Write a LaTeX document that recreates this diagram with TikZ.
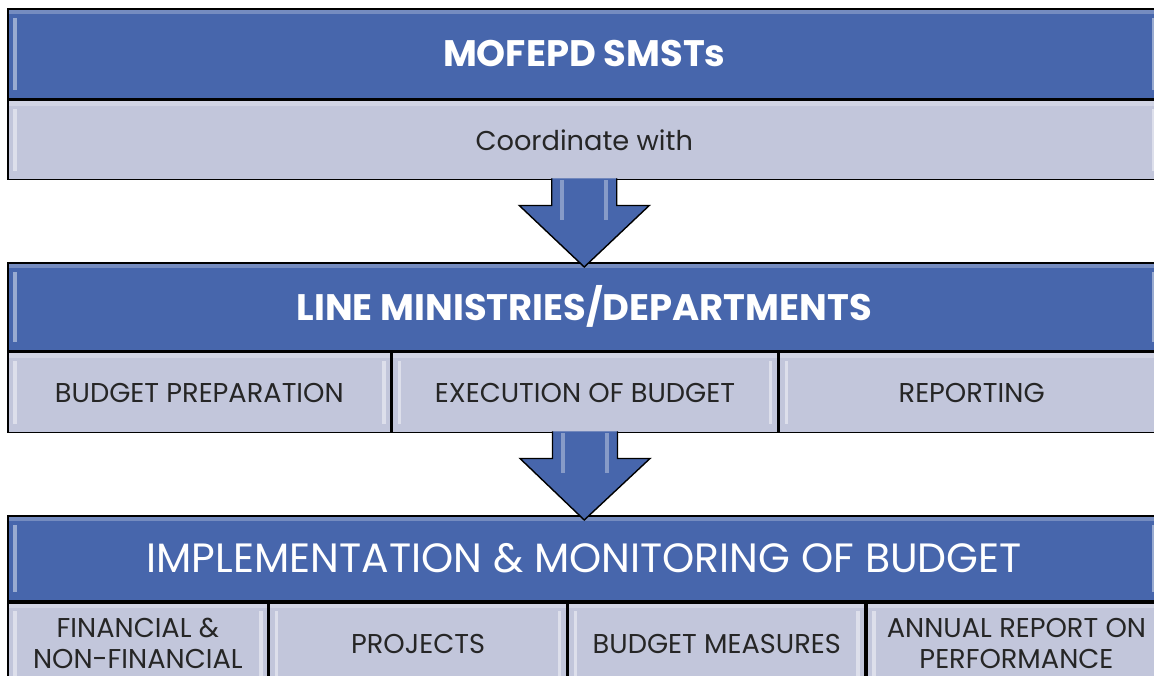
\documentclass[tikz,border=0pt]{standalone}
\usepackage{fontspec}
\setmainfont{Poppins}
\usetikzlibrary{positioning,calc}
\definecolor{hdblue}{RGB}{71,102,172}
\definecolor{cellgrey}{RGB}{194,198,219}
\tikzset{
    gloss/.style = {
        path picture={
            \fill[white, opacity=0.45] ([xshift=3pt,yshift=-5pt]path picture bounding box.north west) rectangle ([xshift=5pt,yshift=5pt]path picture bounding box.south west);
            \fill[white, opacity=0.45] ([xshift=-3pt,yshift=-5pt]path picture bounding box.north east) rectangle ([xshift=-5pt,yshift=5pt]path picture bounding box.south east);
            \fill[white, opacity=0.25] (path picture bounding box.north west) rectangle ([yshift=-3pt]path picture bounding box.north east);
        }
    },
    header/.style = {
        draw,
        shape=rectangle,
        fill=hdblue,
        text=white,
        line width=1pt,
        minimum width=23.06cm,
        inner sep=0pt,
        anchor=north west,
        gloss
    },
    cell/.style = {
        draw,
        shape=rectangle,
        fill=cellgrey,
        text=black!85,
        line width=1pt,
        inner sep=0pt,
        align=center,
        font=\fontsize{15.5}{17.5}\selectfont,
        gloss
    },
    blockarrow/.style = {
        draw,
        fill=hdblue,
        line width=0.8pt
    }
}
\newcommand{\downblock}[2]{%
    \path[blockarrow] ($(#1.south)+(-32.5,-2)$) -- ($(#1.south)+(-32.5,25)$) -- ($(#1.south)+(-65,25)$)
        -- ($(#2.north)+(0,5)$) -- ($(#1.south)+(65,25)$) -- ($(#1.south)+(32.5,25)$) -- ($(#1.south)+(32.5,-2)$);
    \fill[white, opacity=0.35] ($(#1.south)+(-24,0)$) rectangle ($(#1.south)+(-20,40)$);
    \fill[white, opacity=0.35] ($(#1.south)+(20,0)$) rectangle ($(#1.south)+(24,40)$);
}

\begin{document}
\begin{tikzpicture}[x=0.02cm, y=-0.02cm]
    \useasboundingbox (0,0) rectangle (1154,676);
    \clip (0,0) rectangle (1154,676);

    % top block
    \node[header, minimum height=1.8cm, font=\bfseries\fontsize{21}{25}\selectfont] (smsts) at (7,8) {MOFEPD SMSTs};
    \node[cell, anchor=north west, minimum width=23.06cm, minimum height=1.58cm] (coord) at (smsts.south west) {Coordinate with};

    % middle block
    \node[header, minimum height=1.76cm, font=\bfseries\fontsize{21}{25}\selectfont] (ministries) at (7,262) {LINE MINISTRIES/DEPARTMENTS};
    \node[cell, anchor=north west, minimum width=7.66cm, minimum height=1.6cm] (prep) at (ministries.south west) {BUDGET PREPARATION};
    \node[cell, right=0pt of prep, minimum width=7.7cm, minimum height=1.6cm] (exec) {EXECUTION OF BUDGET};
    \node[cell, right=0pt of exec, minimum width=7.7cm, minimum height=1.6cm] (report) {REPORTING};

    % bottom block
    \node[header, minimum height=1.7cm, font=\fontsize{23.3}{27}\selectfont] (implement) at (7,515) {IMPLEMENTATION \& MONITORING OF BUDGET};
    \node[cell, anchor=north west, minimum width=5.2cm, minimum height=1.64cm] (financial) at (implement.south west) {FINANCIAL \&\\NON-FINANCIAL};
    \node[cell, right=0pt of financial, minimum width=5.94cm, minimum height=1.64cm] (projects) {PROJECTS};
    \node[cell, right=0pt of projects, minimum width=5.94cm, minimum height=1.64cm] (measures) {BUDGET MEASURES};
    \node[cell, right=0pt of measures, minimum width=5.98cm, minimum height=1.64cm] (annual) {ANNUAL REPORT ON\\PERFORMANCE};

    \downblock{coord}{ministries}
    \downblock{exec}{implement}
\end{tikzpicture}
\end{document}
